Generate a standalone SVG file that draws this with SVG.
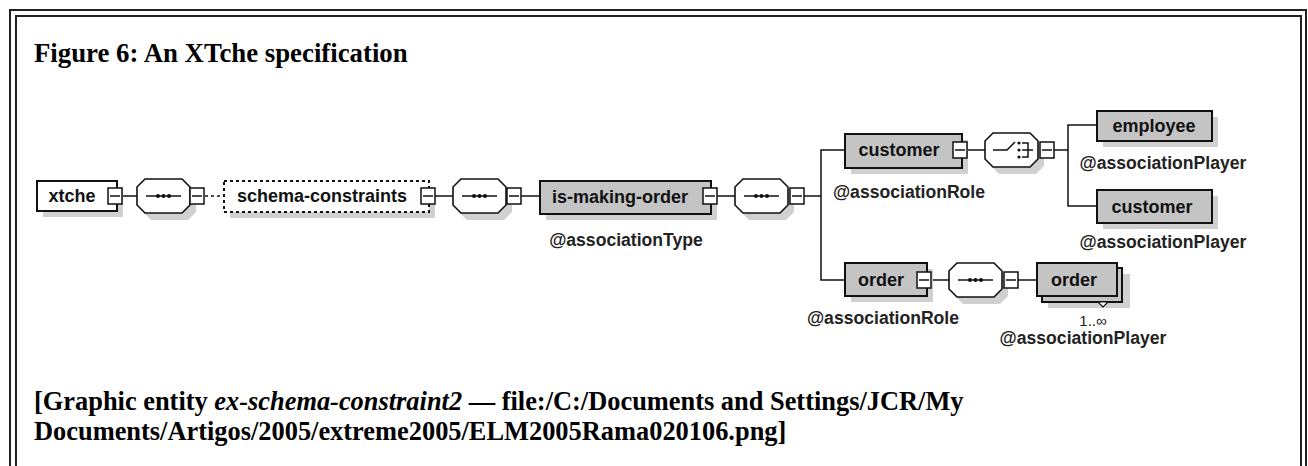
<svg xmlns="http://www.w3.org/2000/svg" width="1308" height="466" viewBox="0 0 1308 466">
<style>
.frame{fill:none;stroke:#222;stroke-width:2}
.cap{font-family:"Liberation Serif","Times New Roman",serif;font-weight:bold;font-size:26.8px;fill:#000}
.cap2{font-family:"Liberation Serif","Times New Roman",serif;font-weight:bold;font-size:26.4px;fill:#000}
.lbl{font-family:"Liberation Sans",Arial,sans-serif;font-weight:bold;font-size:18px;fill:#111;text-anchor:middle}
.att{font-family:"Liberation Sans",Arial,sans-serif;font-weight:bold;font-size:17.6px;fill:#222;text-anchor:middle}
.occ{font-family:"Liberation Sans",Arial,sans-serif;font-size:15px;fill:#222;text-anchor:middle}
.box{fill:#c4c4c4;stroke:#111;stroke-width:2}
.wbox{fill:#fff;stroke:#111;stroke-width:2}
.dbox{fill:#fff;stroke:#111;stroke-width:2;stroke-dasharray:3 3}
.sh{fill:#d0d0d0;stroke:none}
.oct{fill:#fff;stroke:#111;stroke-width:1.6}
.tg{fill:#fff;stroke:#111;stroke-width:1.5}
.ln{fill:none;stroke:#111;stroke-width:1.5}
.dl{fill:none;stroke:#111;stroke-width:1.5;stroke-dasharray:3 3}
</style>
<defs>
<g id="toggle"><rect class="tg" x="0" y="0" width="14" height="16"/><line class="ln" x1="2" y1="8" x2="12" y2="8"/></g>
<g id="octsh"><polygon class="sh" points="8,0 45,0 53,8 53,26 45,34 8,34 0,26 0,8"/></g>
<g id="octo"><polygon class="oct" points="8,0 45,0 53,8 53,26 45,34 8,34 0,26 0,8"/></g>
<g id="seqsym"><line class="ln" x1="9" y1="17" x2="44" y2="17"/><circle cx="21" cy="17" r="2" fill="#111"/><circle cx="26.5" cy="17" r="2" fill="#111"/><circle cx="32" cy="17" r="2" fill="#111"/></g>
</defs>

<rect class="frame" x="10" y="10" width="1296" height="470"/>
<rect class="frame" x="16" y="16" width="1285" height="470"/>

<text class="cap" x="34" y="62">Figure 6: An XTche specification</text>
<text class="cap2" x="34" y="410">[Graphic entity <tspan font-style="italic">ex-schema-constraint2</tspan> — file:/C:/Documents and Settings/JCR/My</text>
<text class="cap2" x="34" y="440">Documents/Artigos/2005/extreme2005/ELM2005Rama020106.png]</text>

<g id="connectors">
<line class="ln" x1="122" y1="196" x2="137" y2="196"/>
<line class="dl" x1="205" y1="196" x2="224" y2="196"/>
<line class="ln" x1="435" y1="196" x2="453" y2="196"/>
<line class="ln" x1="521" y1="196" x2="540" y2="196"/>
<line class="ln" x1="717" y1="196" x2="735" y2="196"/>
<polyline class="ln" points="804,196 821,196"/>
<polyline class="ln" points="845,150 821,150 821,280 845,280"/>
<line class="ln" x1="967" y1="150" x2="985" y2="150"/>
<line class="ln" x1="1054" y1="150" x2="1068" y2="150"/>
<polyline class="ln" points="1097,125 1068,125 1068,206 1097,206"/>
<line class="ln" x1="931" y1="280" x2="949" y2="280"/>
<line class="ln" x1="1017" y1="280" x2="1037" y2="280"/>
</g>

<g id="n-xtche">
<rect class="sh" x="43" y="187" width="80" height="30"/>
<rect class="wbox" x="37" y="181" width="80" height="30"/>
<text class="lbl" x="72" y="202">xtche</text>
<use href="#toggle" x="108" y="188"/>
</g>

<g id="n-seq1">
<use href="#octsh" x="143" y="186"/>
<use href="#octo" x="137" y="179"/>
<use href="#seqsym" x="137" y="179"/>
<use href="#toggle" x="190" y="188"/>
</g>

<g id="n-schema-constraints">
<rect class="sh" x="230" y="187" width="205" height="31"/>
<rect class="dbox" x="224" y="181" width="205" height="31"/>
<text class="lbl" x="322" y="202">schema-constraints</text>
<use href="#toggle" x="421" y="188"/>
</g>

<g id="n-seq2">
<use href="#octsh" x="459" y="186"/>
<use href="#octo" x="453" y="179"/>
<use href="#seqsym" x="453" y="179"/>
<use href="#toggle" x="507" y="188"/>
</g>

<g id="n-is-making-order">
<rect class="sh" x="546" y="187" width="171" height="33"/>
<rect class="box" x="540" y="181" width="171" height="33"/>
<text class="lbl" x="620" y="203">is-making-order</text>
<use href="#toggle" x="703" y="188"/>
<text class="att" x="626" y="246">@associationType</text>
</g>

<g id="n-seq3">
<use href="#octsh" x="741" y="186"/>
<use href="#octo" x="735" y="179"/>
<use href="#seqsym" x="735" y="179"/>
<use href="#toggle" x="790" y="188"/>
</g>

<g id="n-customer-role">
<rect class="sh" x="851" y="140" width="117" height="34"/>
<rect class="box" x="845" y="134" width="117" height="34"/>
<text class="lbl" x="899" y="156">customer</text>
<use href="#toggle" x="953" y="142"/>
<text class="att" x="909" y="198">@associationRole</text>
</g>

<g id="n-choice">
<use href="#octsh" x="991" y="140"/>
<use href="#octo" x="985" y="133"/>
<polyline class="ln" points="993,150 1007,150 1015,142"/>
<circle cx="1019" cy="143" r="1.6" fill="#111"/>
<circle cx="1019" cy="150" r="1.6" fill="#111"/>
<circle cx="1019" cy="157" r="1.6" fill="#111"/>
<polyline class="ln" points="1022,143 1028,143 1028,157 1022,157"/>
<line class="ln" x1="1022" y1="150" x2="1033" y2="150"/>
<use href="#toggle" x="1040" y="142"/>
</g>

<g id="n-employee">
<rect class="sh" x="1103" y="117" width="115" height="30"/>
<rect class="box" x="1097" y="111" width="115" height="30"/>
<text class="lbl" x="1154" y="132">employee</text>
<text class="att" x="1163" y="169">@associationPlayer</text>
</g>

<g id="n-customer-player">
<rect class="sh" x="1103" y="196" width="115" height="33"/>
<rect class="box" x="1097" y="190" width="115" height="33"/>
<text class="lbl" x="1152" y="213">customer</text>
<text class="att" x="1163" y="248">@associationPlayer</text>
</g>

<g id="n-order-role">
<rect class="sh" x="851" y="269" width="82" height="33"/>
<rect class="box" x="845" y="263" width="82" height="33"/>
<text class="lbl" x="881" y="286">order</text>
<use href="#toggle" x="917" y="272"/>
<text class="att" x="883" y="324">@associationRole</text>
</g>

<g id="n-seq4">
<use href="#octsh" x="955" y="270"/>
<use href="#octo" x="949" y="263"/>
<use href="#seqsym" x="949" y="263"/>
<use href="#toggle" x="1004" y="272"/>
</g>

<g id="n-order-player">
<rect class="sh" x="1048" y="274" width="82" height="34"/>
<rect class="box" x="1042" y="268" width="80" height="34"/>
<polygon fill="#fff" stroke="#111" stroke-width="1.2" points="1098,302 1108,302 1103,307"/>
<rect class="box" x="1037" y="263" width="80" height="33"/>
<text class="lbl" x="1074" y="286">order</text>
<text class="occ" x="1093" y="326">1..∞</text>
<text class="att" x="1083" y="344">@associationPlayer</text>
</g>
</svg>
